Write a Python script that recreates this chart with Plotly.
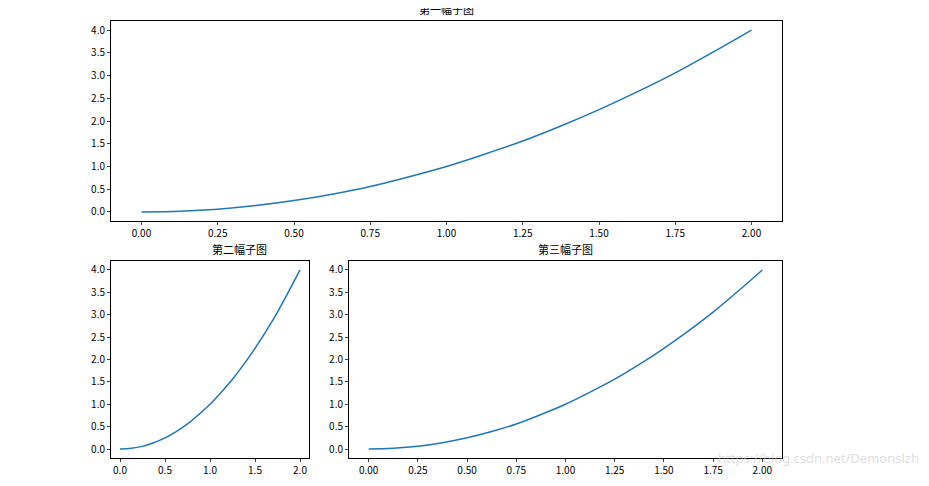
import plotly.graph_objects as go

x_vals = [0, 0.125, 0.25, 0.375, 0.5, 0.625, 0.75, 0.875, 1.0, 1.125, 1.25, 1.375, 1.5, 1.625, 1.75, 1.875, 2.0]
y_vals = [0, 0.016, 0.06, 0.14, 0.25, 0.39, 0.56, 0.77, 1.0, 1.27, 1.56, 1.89, 2.25, 2.64, 3.06, 3.52, 4.0]
titles = ["第一幅子图", "第二幅子图", "第三幅子图"]
color = "#1f77b4"
W, H = 929, 486
OFF = 7

fig = go.Figure()
boxes = [(110, 781, 20, 220), (110, 308, 260, 457), (348, 781, 260, 457)]
font = dict(family="Noto Sans CJK SC, DejaVu Sans", size=10, color="black")
for i, (l, r, t, b) in enumerate(boxes):
    l, r, t, b = l - OFF, r - OFF, t - OFF, b - OFF
    n = "" if i == 0 else str(i + 1)
    fig.add_trace(go.Scatter(x=x_vals, y=y_vals, mode="lines", line=dict(color=color, width=1.5, shape="spline", smoothing=1.0),
                             xaxis="x" + n, yaxis="y" + n, showlegend=False))
    ax = dict(domain=[l / W, r / W], anchor="y" + n, range=[-0.1, 2.1], showgrid=False, zeroline=False,
              showline=True, mirror=True, linecolor="black", linewidth=1, ticks="outside", ticklen=3,
              tickfont=font)
    ay = dict(domain=[1 - b / H, 1 - t / H], anchor="x" + n, range=[-0.2, 4.2], showgrid=False, zeroline=False,
              showline=True, mirror=True, linecolor="black", linewidth=1, ticks="outside", ticklen=3,
              tickfont=font, dtick=0.5, tickformat=".1f")
    if i == 1:
        ax.update(dtick=0.5, tickformat=".1f")
    else:
        ax.update(dtick=0.25, tickformat=".2f")
    fig.layout["xaxis" + n] = ax
    fig.layout["yaxis" + n] = ay
    fig.add_annotation(text=titles[i], x=(l + r) / 2 / W, y=1 - t / H, xref="paper", yref="paper",
                       yanchor="bottom", yshift=2, showarrow=False, font=dict(family="Noto Sans CJK SC", size=11, color="black"))

fig.add_annotation(text="https://blog.csdn.net/Demonslzh", x=(920 - OFF) / W, y=1 - (468 - OFF) / H, xref="paper", yref="paper",
                   xanchor="right", showarrow=False, font=dict(family="Noto Sans", size=13, color="rgba(200,200,200,0.6)"))
fig.update_layout(width=W, height=H, margin=dict(l=0, r=0, t=0, b=0), plot_bgcolor="white", paper_bgcolor="white")
fig.write_html("out.html")
